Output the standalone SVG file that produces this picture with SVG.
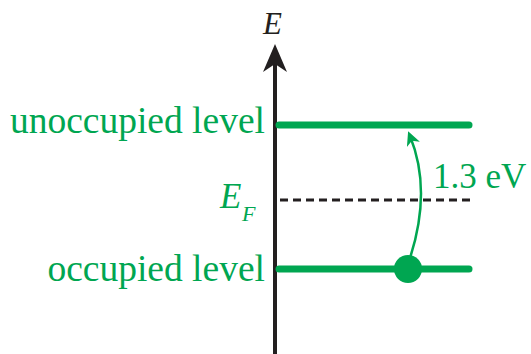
<svg xmlns="http://www.w3.org/2000/svg" width="531" height="354" viewBox="0 0 531 354">
<style>
.lbl{font-family:"Liberation Serif",serif;font-size:37.5px;fill:#00a651}
.lev{stroke:#00a651;stroke-width:7;stroke-linecap:round;fill:none}
</style>
<defs>
<marker id="ah" markerWidth="14" markerHeight="14" refX="9" refY="7" orient="auto" markerUnits="userSpaceOnUse" viewBox="0 0 14 14">
<path d="M0,0 L14,7 L0,14 L4,7 Z" fill="#00a651"/>
</marker>
</defs>
<g id="axis">
<line x1="275" y1="354" x2="275" y2="60" stroke="#231f20" stroke-width="4"/>
<path d="M275,44 L287,72 L275,64 L263,72 Z" fill="#231f20"/>
<text x="263" y="34" font-family="Liberation Serif,serif" font-style="italic" font-size="31" fill="#231f20">E</text>
</g>
<g id="unoccupied">
<line class="lev" x1="279" y1="125" x2="469" y2="125"/>
<text class="lbl" x="265" y="133" text-anchor="end">unoccupied level</text>
</g>
<g id="fermi">
<line x1="280" y1="200" x2="470" y2="200" stroke="#231f20" stroke-width="3" stroke-dasharray="8,5"/>
<text class="lbl" x="220" y="208" style="font-style:italic;font-size:35px">E</text>
<text class="lbl" x="242" y="221" style="font-style:italic;font-size:22px">F</text>
</g>
<g id="occupied">
<line class="lev" x1="279" y1="269" x2="469" y2="269"/>
<circle cx="408" cy="269" r="14" fill="#00a651"/>
<text class="lbl" x="265" y="281" text-anchor="end">occupied level</text>
</g>
<g id="connectors">
<path d="M410,258 Q432,190 410,136" stroke="#00a651" stroke-width="2.5" fill="none" marker-end="url(#ah)"/>
</g>
<text class="lbl" x="433" y="188" style="font-size:35px">1.3 eV</text>
</svg>
